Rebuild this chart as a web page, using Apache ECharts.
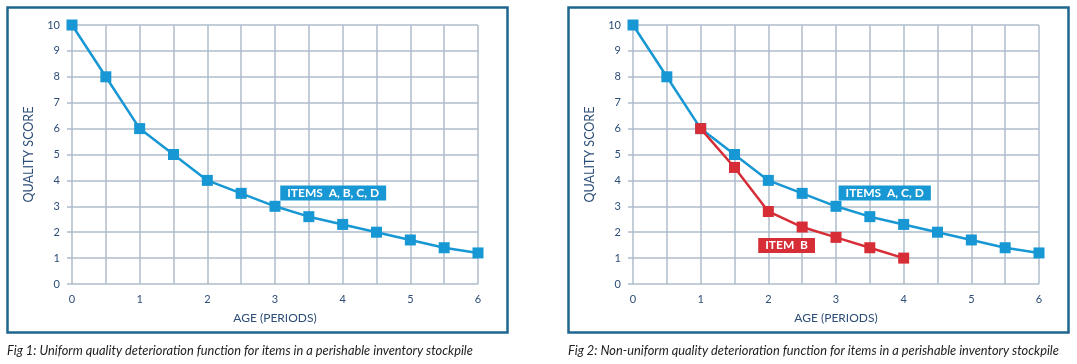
<!DOCTYPE html>
<html><head><meta charset="utf-8">
<script src="https://cdn.jsdelivr.net/npm/echarts@6/dist/echarts.min.js"></script>
<style>html,body{margin:0;padding:0;background:#fff}#c{width:1077px;height:364px}</style>
</head><body><div id="c"></div>
<script>
const ages = [0,0.5,1,1.5,2,2.5,3,3.5,4,4.5,5,5.5,6];
const qualityAll = [10,8,6,5,4,3.5,3,2.6,2.3,2,1.7,1.4,1.2];
const agesB = [1,1.5,2,2.5,3,3.5,4];
const qualityB = [6,4.5,2.8,2.2,1.8,1.4,1.0];
const xTicks = ['0','1','2','3','4','5','6'];
const yTicks = ['0','1','2','3','4','5','6','7','8','9','10'];
const labelLeft = 'ITEMS  A, B, C, D';
const labelRightBlue = 'ITEMS  A, C, D';
const labelRightRed = 'ITEM  B';
const caption1 = 'Fig 1: Uniform quality deterioration function for items in a perishable inventory stockpile';
const caption2 = 'Fig 2: Non-uniform quality deterioration function for items in a perishable inventory stockpile';

const BLUE = '#1797d4', RED = '#d62d36', GRID = '#aebccb', TXT = '#2d4e78', BORDER = '#1e6690';
const FONT = 'Lato, "Open Sans", sans-serif';

function pairs(xs, ys){ return xs.map((x,i)=>[x, ys[i]]); }

function xAxis(gi){
  return {type:'value', gridIndex:gi, min:0, max:6, interval:0.5,
    name:'AGE (PERIODS)', nameLocation:'middle', nameGap:28,
    nameTextStyle:{color:TXT, fontSize:12, fontFamily:FONT},
    axisLine:{show:false}, axisTick:{show:false},
    axisLabel:{color:TXT, fontSize:11, fontFamily:FONT, margin:10,
      formatter:v=> Number.isInteger(v) ? xTicks[v] : ''},
    splitLine:{show:true, lineStyle:{color:GRID, width:1.5}}};
}
function yAxis(gi){
  return {type:'value', gridIndex:gi, min:0, max:10, interval:1,
    name:'QUALITY SCORE', nameLocation:'middle', nameGap:37, nameRotate:90,
    nameTextStyle:{color:TXT, fontSize:12.5, fontFamily:FONT},
    axisLine:{show:false},
    axisTick:{show:true, length:5, lineStyle:{color:GRID, width:1.5}},
    axisLabel:{color:TXT, fontSize:11, fontFamily:FONT, margin:12, formatter:v=>yTicks[v]},
    splitLine:{show:true, lineStyle:{color:GRID, width:1.5}}};
}
function tag(text, color, coord){
  return {coord:coord, symbol:'rect', symbolSize:1, itemStyle:{color:'rgba(0,0,0,0)'},
    label:{show:true, position:'inside', formatter:text, color:'#fff', fontWeight:'bold',
      fontSize:12, fontFamily:FONT, backgroundColor:color, padding:[2,7,1,7]}};
}
function line(xi, yi, data, color, tags, z){
  return {type:'line', xAxisIndex:xi, yAxisIndex:yi, data:data, z:z||2,
    symbol:'rect', symbolSize:11, showSymbol:true,
    lineStyle:{color:color, width:2.5}, itemStyle:{color:color},
    animation:false,
    markPoint: tags ? {silent:true, animation:false, data:tags} : undefined};
}

const chart = echarts.init(document.getElementById('c'), null, {renderer:'canvas'});
chart.setOption({
  animation:false,
  backgroundColor:'#fff',
  grid:[{left:72, top:25, width:406, height:259},
        {left:633, top:25, width:406, height:259}],
  xAxis:[xAxis(0), xAxis(1)],
  yAxis:[yAxis(0), yAxis(1)],
  series:[
    line(0,0,pairs(ages,qualityAll),BLUE,[tag(labelLeft,BLUE,[3.86,3.51])]),
    line(1,1,pairs(ages,qualityAll),BLUE,[tag(labelRightBlue,BLUE,[3.72,3.51])]),
    line(1,1,pairs(agesB,qualityB),RED,[tag(labelRightRed,RED,[2.27,1.49])],3)
  ],
  graphic:[
    {type:'rect', shape:{x:7.5,y:7.5,width:500,height:325}, style:{fill:'none', stroke:BORDER, lineWidth:2.5}, z:-1},
    {type:'rect', shape:{x:568.5,y:7.5,width:500,height:325}, style:{fill:'none', stroke:BORDER, lineWidth:2.5}, z:-1},
    {type:'text', left:7, top:344, style:{text:caption1, fill:'#222', font:'italic 12.8px '+FONT}},
    {type:'text', left:568, top:344, style:{text:caption2, fill:'#222', font:'italic 12.8px '+FONT}}
  ]
});
</script></body></html>
